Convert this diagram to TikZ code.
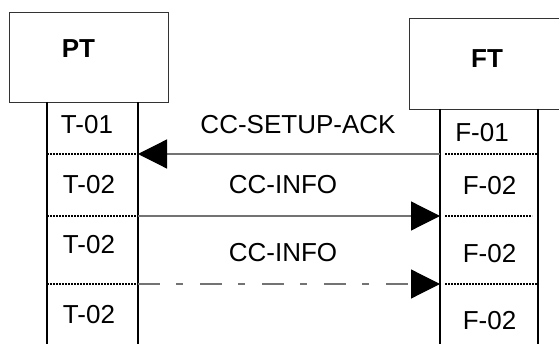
\documentclass[tikz,border=0pt]{standalone}
\usepackage{fontspec}
\setmainfont{Liberation Sans}
\usetikzlibrary{arrows.meta,positioning}

\begin{document}
\begin{tikzpicture}
    [x=1pt, y=-1pt,
    every node/.style={font=\fontsize{26}{30}\selectfont, inner sep=0pt},
    headbox/.style={draw=black!80, line width=0.8pt, anchor=north west},
    headtext/.style={font=\fontsize{26}{30}\selectfont\bfseries},
    life/.style={draw, line width=2pt},
    sep/.style={draw, line width=1.5pt, dash pattern=on 2pt off 1pt},
    msg/.style={draw=black!55, line width=1.2pt, -{Triangle[length=29pt,width=29pt,color=black]}},
    dashdot/.style={dash pattern=on 22pt off 16pt on 7pt off 17pt}]
  \useasboundingbox (0,0) rectangle (559,344);
  \clip (0,0) rectangle (559,344);
  % entities
  \node[headbox, minimum width=159pt, minimum height=90pt] (PT) at (9,12) {};
  \node[headtext] (PTname) at (78.5,48.7) {PT};
  \node[headbox, draw=none, minimum width=200pt, minimum height=91pt] (FT) at (409,18) {};
  \draw[draw=black!80, line width=0.8pt] (FT.north east) -- (FT.north west) -- (FT.south west) -- (FT.south east);
  \node[headtext] (FTname) at (487,58.5) {FT};
  % lifelines
  \draw[life] (47,102) -- (47,344) (138,102) -- (138,344);
  \draw[life] (440,109) -- (440,344) (538,109) -- (538,344);
  % states
  \node (T1) at (87,124.5) {T-01};
  \node (T2) at (89,184.5) {T-02};
  \node (T3) at (89,244.5) {T-02};
  \node (T4) at (89,314.5) {T-02};
  \node (F1) at (482,133) {F-01};
  \node (F2) at (489.5,185.5) {F-02};
  \node (F3) at (489.5,254) {F-02};
  \node (F4) at (489.5,321) {F-02};
  % row separators
  \draw[sep] (47,154) -- (138,154) (47,216) -- (138,216) (47,284) -- (138,284);
  \draw[sep] (445,154) -- (538,154) (445,216) -- (532,216) (445,284) -- (538,284);
  % messages
  \coordinate (PTa) at (138,154);
  \coordinate (FTa) at (440,154);
  \coordinate (PTb) at (138,216);
  \coordinate (FTb) at (440,216);
  \coordinate (PTc) at (138,284);
  \coordinate (FTc) at (440,284);
  \draw[msg] (FTa) -- (PTa);
  \draw[msg] (PTb) -- (FTb);
  \draw[msg, dashdot] (PTc) -- (FTc);
  \node (M1) at (298,124.5) {CC-SETUP-ACK};
  \node (M2) at (283,184.5) {CC-INFO};
  \node (M3) at (283,252.5) {CC-INFO};
\end{tikzpicture}
\end{document}
